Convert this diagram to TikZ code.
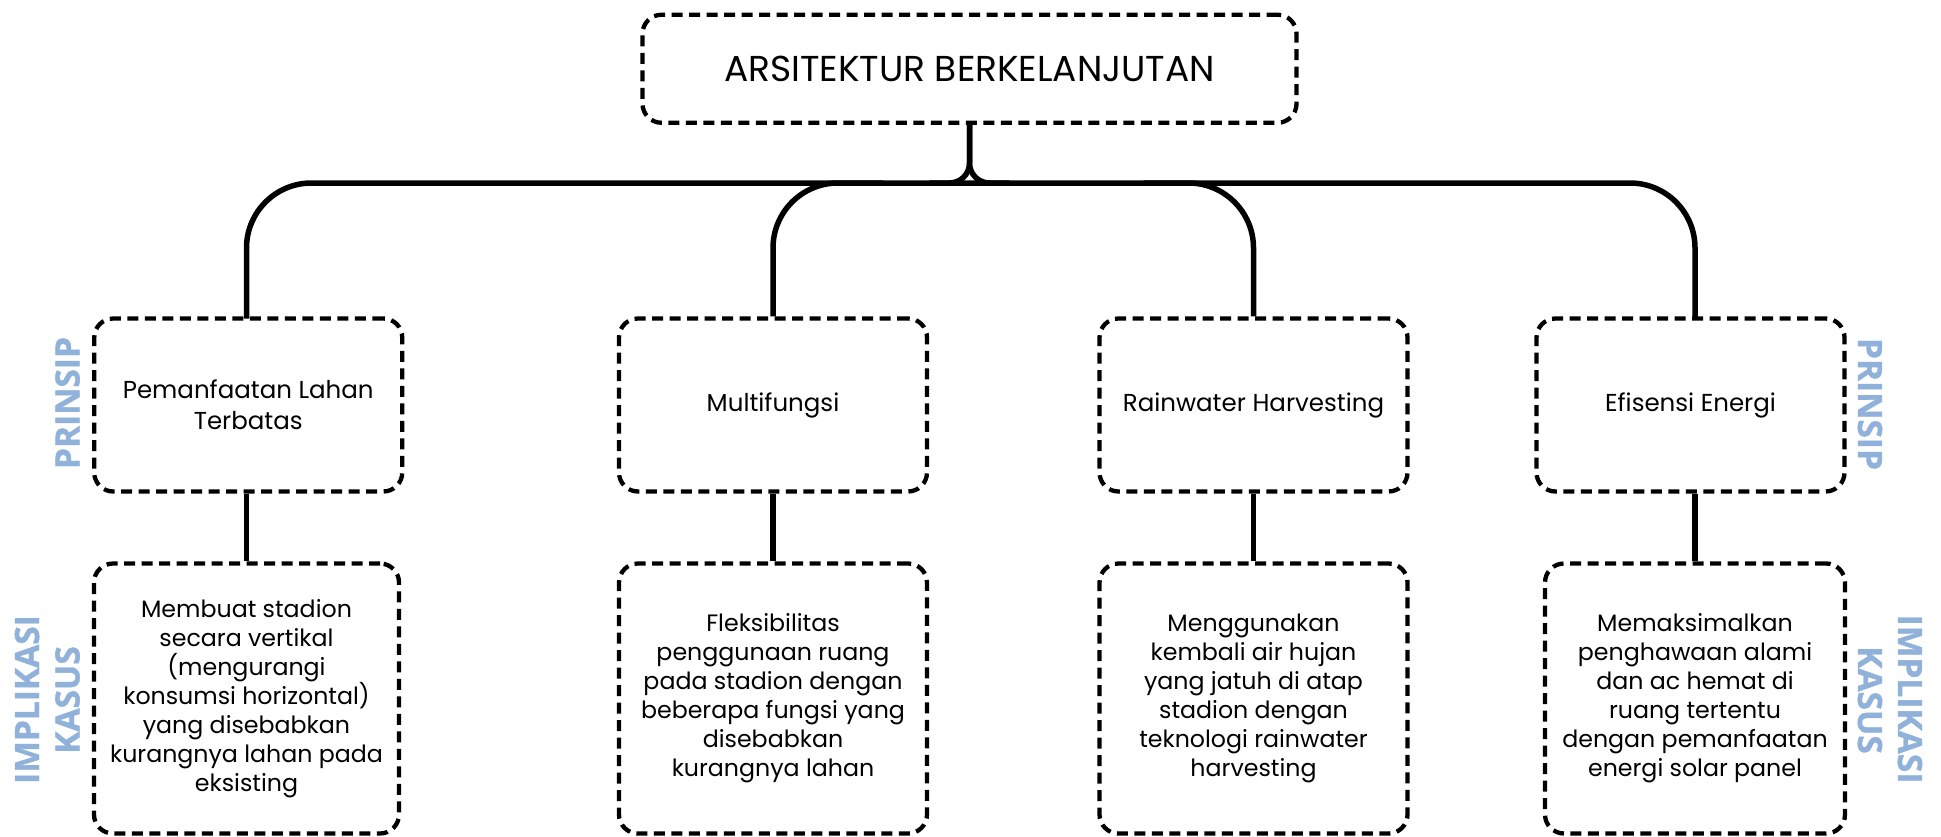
\documentclass[tikz,border=0pt]{standalone}
\usepackage{fontspec}
\setmainfont{Poppins}
\newfontfamily\sidefont[BoldFeatures={FakeBold=1.2}]{Open Sans}
\definecolor{sideblue}{HTML}{8FB1DA}
\begin{document}
\begin{tikzpicture}[x=1pt,y=-1pt,
  box/.style={draw, dashed, dash pattern=on 11pt off 6.5pt, line width=4.3pt, rounded corners=19pt,
    align=center, inner sep=0pt, font=\fontsize{23.7}{29}\selectfont},
  topbox/.style={box, minimum width=654pt, minimum height=108pt, font=\fontsize{36}{40}\selectfont},
  pbox/.style={box, minimum width=308pt, minimum height=173pt, font=\fontsize{24.5}{31}\selectfont},
  ibox/.style={box, minimum height=270pt},
  conn/.style={line width=5.5pt},
  side/.style={text=sideblue, font=\sidefont\bfseries\fontsize{33.5}{40}\selectfont,
    inner sep=0pt, text height=24pt, text depth=0pt}
]
\useasboundingbox (0,0) rectangle (1941,836);
\node[topbox] (top) at (969.5,68.75) {ARSITEKTUR BERKELANJUTAN};

\node[pbox] (b1) at (248.25,405) {Pemanfaatan Lahan\\Terbatas};
\node[pbox] (b2) at (773,405) {Multifungsi};
\node[pbox] (b3) at (1253.5,405) {Rainwater Harvesting};
\node[pbox] (b4) at (1690.5,405) {Efisensi Energi};

\node[ibox, minimum width=305pt] (c1) at (246.5,698.5) {Membuat stadion\\secara vertikal\\(mengurangi\\konsumsi horizontal)\\yang disebabkan\\kurangnya lahan pada\\eksisting};
\node[ibox, minimum width=308pt] (c2) at (773,698.5) {Fleksibilitas\\penggunaan ruang\\pada stadion dengan\\beberapa fungsi yang\\disebabkan\\kurangnya lahan};
\node[ibox, minimum width=308pt] (c3) at (1253.5,698.5) {Menggunakan\\kembali air hujan\\yang jatuh di atap\\stadion dengan\\teknologi rainwater\\harvesting};
\node[ibox, minimum width=300pt] (c4) at (1695,698.5) {Memaksimalkan\\penghawaan alami\\dan ac hemat di\\ruang tertentu\\dengan pemanfaatan\\energi solar panel};

\node[side, rotate=90] (sl1) at (67.5,403) {PRINSIP};
\node[side, rotate=90] (sl2) at (27,699.5) {IMPLIKASI};
\node[side, rotate=90] (sl3) at (67.5,700) {KASUS};
\node[side, rotate=-90] (sr1) at (1870,404) {PRINSIP};
\node[side, rotate=-90] (sr2) at (1910,699) {IMPLIKASI};
\node[side, rotate=-90] (sr3) at (1870,700) {KASUS};

\coordinate (bus) at (0,183);
\coordinate (b4n) at (1695,318.5);
\coordinate (b1n) at (246.5,318.5);
% bus
\draw[conn, rounded corners=65pt] (b1n) -- (b1n |- bus) -- (b4n |- bus) -- (b4n);
\draw[conn, rounded corners=65pt] (b2.north) -- (b2.north |- bus) -- ++(110,0);
\draw[conn, rounded corners=65pt] (b3.north) -- (b3.north |- bus) -- ++(-110,0);
\draw[conn, rounded corners=20pt] (top.south) -- (top.south |- bus) -- ++(-40,0);
\draw[conn, rounded corners=20pt] (top.south) -- (top.south |- bus) -- ++(40,0);
% verticals
\draw[conn] (b1n |- b1.south) -- (b1n |- c1.north);
\draw[conn] (b2.south) -- (c2.north);
\draw[conn] (b3.south) -- (c3.north);
\draw[conn] (b4n |- b4.south) -- (c4.north);
\end{tikzpicture}
\end{document}
